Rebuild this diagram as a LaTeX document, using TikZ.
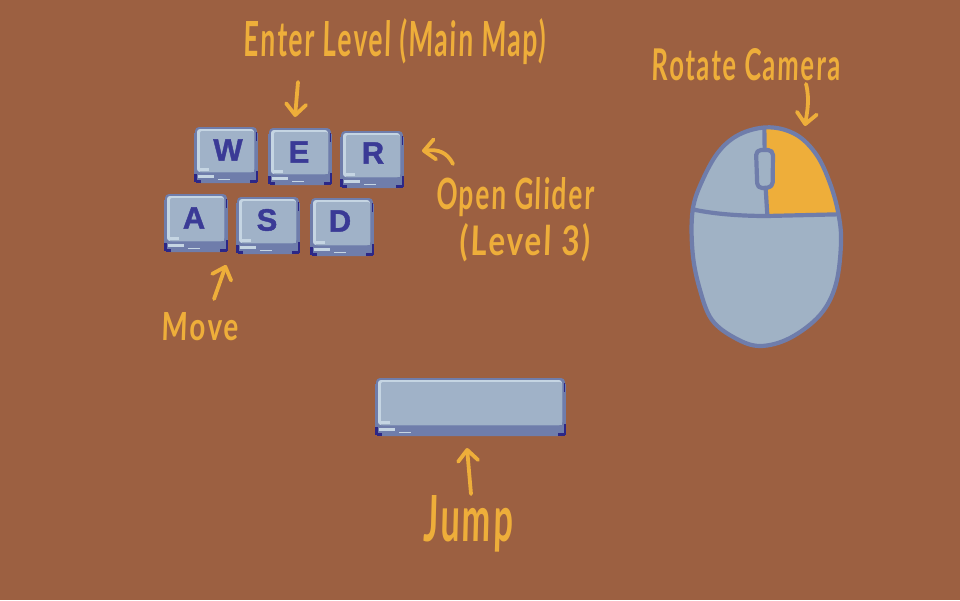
\documentclass[tikz,border=0pt]{standalone}
\usepackage{fontspec}
\usepackage{graphicx}
\setmainfont{Liberation Sans}
\newfontfamily\handfont{Lato}[LetterSpace=7,FakeSlant=0.05,BoldFeatures={LetterSpace=7,FakeSlant=0.05}]
\newfontfamily\keyfont{Liberation Sans}[BoldFeatures={FakeBold=1.3}]
\usetikzlibrary{arrows.meta}
\definecolor{bgc}{HTML}{9C6041}
\definecolor{inkc}{HTML}{EEAE3A}
\definecolor{facec}{HTML}{A0B2C8}
\definecolor{edgec}{HTML}{6F7DAB}
\definecolor{litec}{HTML}{C5D5E3}
\definecolor{darkc}{HTML}{2C2787}
\definecolor{letterc}{HTML}{3A3A96}
\definecolor{mousec}{HTML}{A0B2C5}
\tikzset{
  hand/.style={text=inkc,inner sep=0pt,font=\handfont\bfseries},
  handarrow/.style={draw=inkc,line width=3.8pt,line cap=round,line join=round,
    -{Straight Barb[length=11pt,width=20pt,line width=3.8pt,round]}},
  keyletter/.style={text=letterc,inner sep=0pt,font=\keyfont\fontsize{31}{31}\selectfont\bfseries},
  mouseline/.style={draw=edgec,line width=4.2pt,line cap=round,line join=round},
}
% name, x0, y0, x1, y1, letter, letter-x, letter-y
\newcommand{\keycap}[8]{%
  \fill[edgec,rounded corners=4pt] (#2+1,#3) rectangle (#4-1,#5);
  \fill[edgec] (#2,#3+6) rectangle (#2+2,#5-8);
  \fill[edgec] (#4-2,#3+6) rectangle (#4,#5-8);
  \fill[litec,rounded corners=3pt] (#2+3,#3+2) rectangle (#4-4,#5-11);
  \fill[facec,rounded corners=2pt] (#2+6,#3+4) rectangle (#4-4,#5-11);
  \fill[facec] (#2+6,#5-20) rectangle (#4-4,#5-11);
  \fill[litec] (#2+6,#5-15) rectangle (#2+15,#5-12.5);
  \fill[litec] (#2+4,#5-8) rectangle (#2+20,#5-5.5);
  \fill[litec] (#2+24,#5-4.5) rectangle (#2+36,#5-3);
  \fill[darkc] (#2,#5-9) rectangle (#2+2.5,#5-1);
  \fill[darkc] (#2+2,#5-3) rectangle (#2+7,#5);
  \fill[darkc] (#4-2.5,#5-12) rectangle (#4,#5-1);
  \fill[darkc] (#4-8,#5-3) rectangle (#4-1,#5);
  \fill[darkc] (#4-2,#3+5) rectangle (#4-1,#3+14);
  \node[keyletter,minimum size=0pt] (#1) at (#7,#8) {#6};
}
\begin{document}
\begin{tikzpicture}[x=1pt,y=-1pt]
\useasboundingbox (0,0) rectangle (960,600);
\fill[bgc] (0,0) rectangle (960,600);

% keys
\keycap{keyW}{194}{127}{258}{183}{W}{228}{150}
\keycap{keyE}{268}{128}{332}{185}{E}{299}{152}
\keycap{keyR}{340}{131}{404}{188}{R}{373}{153}
\keycap{keyA}{164}{194}{228}{252}{A}{194}{218}
\keycap{keyS}{236}{197}{300}{254}{S}{267}{220}
\keycap{keyD}{310}{198}{374}{256}{D}{340}{221}
\keycap{keySpace}{375}{378}{566}{436}{}{470}{402}

% mouse
\begin{scope}[shift={(670,100)},scale=1/3]
  \def\bodyshape{plot[smooth cycle,tension=.6] coordinates {(300,82) (380,105) (440,165) (480,250) (505,340) (513,430) (497,555) (450,645) (360,714) (270,738) (195,714) (126,660) (90,570) (68,460) (68,330) (100,235) (150,150) (215,100)}}
  \fill[mousec] \bodyshape;
  \begin{scope}
    \clip \bodyshape;
    \fill[inkc] (286,70) -- (520,70) -- (520,344) -- (292,348) -- (287,265) -- cycle;
  \end{scope}
  \draw[mouseline] \bodyshape;
  \draw[mouseline] (68,328) .. controls (120,340) and (200,348) .. (290,348) -- (505,343);
  \draw[mouseline] (283,88) -- (284,150);
  \draw[mouseline] (287,265) -- (292,346);
  \draw[mouseline,fill=mousec,rounded corners=5pt] (258,150) -- (309,150) -- (308,262) -- (262,265) -- cycle;
\end{scope}

% labels
\node[hand] (lblEnter) at (395,42) {\resizebox{302pt}{38pt}{Enter Level (Main Map)}};
\node[hand] (lblRotate) at (746,65) {\resizebox{188pt}{32pt}{Rotate Camera}};
\node[hand] (lblGlider) at (515,197) {\resizebox{158pt}{32pt}{Open Glider}};
\node[hand] (lblLevel) at (525,243) {\resizebox{130pt}{32pt}{(Level 3)}};
\node[hand] (lblMove) at (200,327) {\resizebox{76pt}{28pt}{Move}};
\node[hand] (lblJump) at (468,524) {\resizebox{89pt}{46pt}{Jump}};

% arrows
\coordinate (tailEnter) at (298,82);  \coordinate (tipEnter) at (295,117);
\coordinate (tailRot) at (806,84);    \coordinate (tipRot) at (805,126);
\coordinate (tailGl) at (453,164);    \coordinate (tipGl) at (422,151);
\coordinate (tailMove) at (214,299);  \coordinate (tipMove) at (226,265);
\coordinate (tailJump) at (471,494);  \coordinate (tipJump) at (467,448);
\draw[handarrow] (tailEnter) -- (tipEnter);
\draw[handarrow] (tailRot) .. controls (810,100) and (807,112) .. (tipRot);
\draw[handarrow] (tailGl) .. controls (447,152) and (438,149) .. (tipGl);
\draw[handarrow] (tailMove) -- (tipMove);
\draw[handarrow] (tailJump) -- (tipJump);
\end{tikzpicture}
\end{document}
